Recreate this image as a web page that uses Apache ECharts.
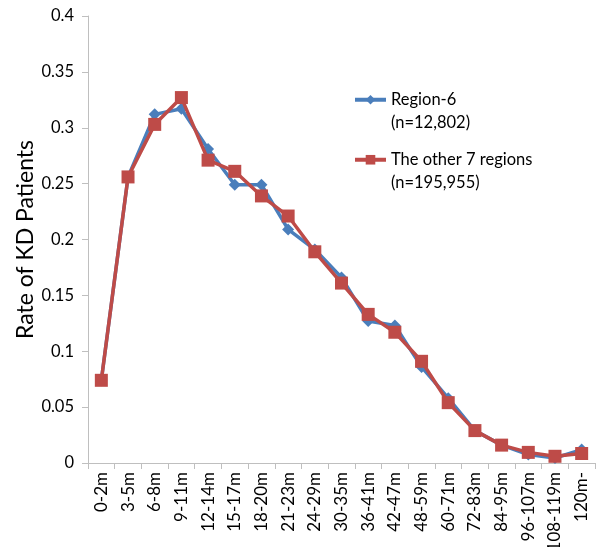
<!DOCTYPE html>
<html><head><meta charset="utf-8">
<script src="https://cdn.jsdelivr.net/npm/echarts@6/dist/echarts.min.js"></script>
<style>html,body{margin:0;padding:0;background:#fff}#c{width:598px;height:547px}</style>
</head><body><div id="c"></div>
<script>
const categories = ['0-2m','3-5m','6-8m','9-11m','12-14m','15-17m','18-20m','21-23m','24-29m','30-35m','36-41m','42-47m','48-59m','60-71m','72-83m','84-95m','96-107m','108-119m','120m-'];
const region6 = [0.074,0.256,0.312,0.317,0.281,0.249,0.249,0.209,0.191,0.166,0.127,0.123,0.086,0.058,0.029,0.016,0.0075,0.0045,0.012];
const others = [0.074,0.256,0.303,0.327,0.271,0.261,0.239,0.221,0.189,0.161,0.133,0.117,0.091,0.054,0.029,0.016,0.0095,0.006,0.0085];
const yTicks = [0,0.05,0.1,0.15,0.2,0.25,0.3,0.35,0.4];
const seriesNames = ['Region-6','The other 7 regions'];
const seriesNotes = ['(n=12,802)','(n=195,955)'];

const FONT = 'Lato';
const chart = echarts.init(document.getElementById('c'));
const legendCommon = {
  orient:'vertical', left:353, padding:0, itemWidth:31, itemHeight:12, itemGap:0,
  lineStyle:{width:4},
  textStyle:{fontFamily:FONT, fontSize:16.5, color:'#000', lineHeight:22.5},
  formatter: n => '\n' + n + '\n' + seriesNotes[seriesNames.indexOf(n)]
};
chart.setOption({
  animation:false,
  grid:{left:88, top:16, right:3, bottom:84, containLabel:false, outerBoundsMode:'none'},
  legend:[
    Object.assign({}, legendCommon, {top:66, data:[seriesNames[0]]}),
    Object.assign({}, legendCommon, {top:126, data:[seriesNames[1]]})
  ],
  xAxis:{
    type:'category', data:categories, boundaryGap:true,
    axisLine:{lineStyle:{color:'#bfbfbf', width:1}},
    axisTick:{show:true, alignWithLabel:false, length:6, lineStyle:{color:'#bfbfbf'}},
    axisLabel:{rotate:90, interval:0, fontFamily:FONT, fontSize:17, color:'#000', margin:9}
  },
  yAxis:{
    type:'value', min:yTicks[0], max:yTicks[yTicks.length-1], interval:0.05,
    name:'Rate of KD Patients', nameLocation:'middle', nameGap:51, nameMoveOverlap:false,
    nameTextStyle:{fontFamily:FONT, fontSize:23, color:'#000'},
    axisLine:{show:true, lineStyle:{color:'#bfbfbf', width:1}},
    axisTick:{show:true, length:6, lineStyle:{color:'#bfbfbf'}},
    splitLine:{show:false},
    axisLabel:{fontFamily:FONT, fontSize:16.5, color:'#000', margin:14,
      formatter: v => String(+v.toFixed(2))}
  },
  series:[
    {name:seriesNames[0], type:'line', data:region6, symbol:'diamond', symbolSize:12,
     lineStyle:{color:'#4a7ebb', width:3.5}, itemStyle:{color:'#4a7ebb'}, z:2},
    {name:seriesNames[1], type:'line', data:others, symbol:'rect', symbolSize:13,
     lineStyle:{color:'#be4b48', width:3.5}, itemStyle:{color:'#be4b48'}, z:3}
  ]
});
</script></body></html>
